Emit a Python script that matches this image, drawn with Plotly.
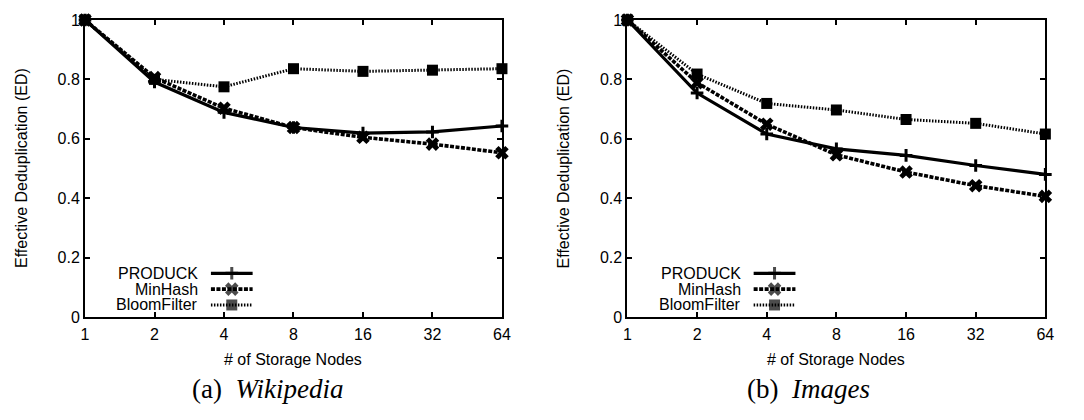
import plotly.graph_objects as go

nodes = [1, 2, 4, 8, 16, 32, 64]
tick_labels = ["1", "2", "4", "8", "16", "32", "64"]
series_names = ["PRODUCK", "MinHash", "BloomFilter"]

wiki_produck = [1.0, 0.791, 0.689, 0.638, 0.619, 0.623, 0.643]
wiki_minhash = [1.0, 0.806, 0.703, 0.638, 0.605, 0.582, 0.553]
wiki_bloom = [1.0, 0.800, 0.775, 0.836, 0.827, 0.831, 0.836]

img_produck = [1.0, 0.754, 0.616, 0.566, 0.544, 0.510, 0.480]
img_minhash = [1.0, 0.789, 0.649, 0.546, 0.488, 0.442, 0.406]
img_bloom = [1.0, 0.818, 0.719, 0.697, 0.665, 0.652, 0.616]

y_ticks = [0, 0.2, 0.4, 0.6, 0.8, 1.0]
y_tick_labels = ["0", "0.2", "0.4", "0.6", "0.8", "1"]

W, H = 1084, 420
SANS = "Liberation Sans, Arial, Helvetica, sans-serif"
SERIF = "Liberation Serif, DejaVu Serif, serif"
FS = 16

styles = [
    dict(line=dict(color="black", width=3.2, dash="solid"),
         marker=dict(symbol="cross-thin", size=9, color="black",
                     line=dict(color="black", width=3))),
    dict(line=dict(color="black", width=3.6, dash="4px,1.5px"),
         marker=dict(symbol="x", size=12, color="black",
                     line=dict(color="black", width=0))),
    dict(line=dict(color="black", width=3, dash="1.5px,1.5px"),
         marker=dict(symbol="square", size=11, color="black",
                     line=dict(color="black", width=0))),
]

fig = go.Figure()

panels = [
    ("x", "y", [wiki_produck, wiki_minhash, wiki_bloom]),
    ("x2", "y2", [img_produck, img_minhash, img_bloom]),
]
for xa, ya, data in panels:
    for name, vals, st in zip(series_names, data, styles):
        fig.add_trace(go.Scatter(x=nodes, y=vals, mode="lines+markers", name=name,
                                 xaxis=xa, yaxis=ya, showlegend=False, cliponaxis=False,
                                 line=st["line"], marker=st["marker"]))

# plot frames in pixels
L1, R1 = 82.0, 504.0
L2, R2 = 631.0, 1054.0
TOP, BOT = 12.5, 322.0

rows = [276.5, 293.0, 309.5]
legend_cfg = []
for L, R in ((L1, R1), (L2, R2)):
    w = R - L
    legend_cfg.append((L + 0.276 * w, L + 0.302 * w, L + 0.402 * w))

annotations = []
for text_r, l0, l1 in legend_cfg:
    for name, yy, st in zip(series_names, rows, styles):
        mid = (l0 + l1) / 2
        m = dict(st["marker"])
        m["size"] = [0, st["marker"]["size"], 0]
        fig.add_trace(go.Scatter(x=[l0, mid, l1], y=[yy, yy, yy], mode="lines+markers",
                                 xaxis="x3", yaxis="y3", showlegend=False, hoverinfo="skip",
                                 cliponaxis=False, line=st["line"], marker=m))
        annotations.append(dict(x=text_r, y=yy, xref="x3", yref="y3", text=name,
                                showarrow=False, xanchor="right", yanchor="middle",
                                font=dict(family=SANS, size=FS, color="black")))

def xfrac(px):
    return px / W

def yfrac(py):
    return 1 - py / H

for cx in (L1 - 65, L2 - 65):
    annotations.append(dict(x=xfrac(cx), y=yfrac(167), xref="paper", yref="paper",
                            text="Effective Deduplication (ED)", textangle=-90,
                            showarrow=False, xanchor="center", yanchor="middle",
                            font=dict(family=SANS, size=FS, color="black")))
for cx in ((L1 + R1) / 2, (L2 + R2) / 2):
    annotations.append(dict(x=xfrac(cx), y=yfrac(366), xref="paper", yref="paper",
                            text="# of Storage Nodes", showarrow=False,
                            xanchor="center", yanchor="middle",
                            font=dict(family=SANS, size=FS, color="black")))
for cx, txt in ((267.0, "(a)  <i>Wikipedia</i>"), (814.0, "(b)  <i>Images</i>")):
    annotations.append(dict(x=xfrac(cx), y=yfrac(397), xref="paper", yref="paper",
                            text=txt, showarrow=False, xanchor="center", yanchor="middle",
                            font=dict(family=SERIF, size=27, color="black")))

common_x = dict(type="log", range=[0, 1.80618], tickvals=nodes, ticktext=tick_labels,
                ticks="inside", ticklen=5, tickwidth=1.5, tickcolor="black",
                showline=True, linewidth=2, linecolor="black", mirror="ticks",
                showgrid=False, zeroline=False, ticklabelstandoff=2,
                tickfont=dict(family=SANS, size=FS, color="black"))
common_y = dict(range=[0, 1], tickvals=y_ticks, ticktext=y_tick_labels,
                ticks="inside", ticklen=5, tickwidth=1.5, tickcolor="black",
                showline=True, linewidth=2, linecolor="black", mirror="ticks",
                showgrid=False, zeroline=False,
                tickfont=dict(family=SANS, size=FS, color="black"))

ydom = [yfrac(BOT), yfrac(TOP)]
fig.update_layout(
    width=W, height=H,
    margin=dict(l=0, r=0, t=0, b=0),
    paper_bgcolor="white", plot_bgcolor="rgba(0,0,0,0)",
    xaxis=dict(domain=[xfrac(L1), xfrac(R1)], anchor="y", **common_x),
    yaxis=dict(domain=ydom, anchor="x", **common_y),
    xaxis2=dict(domain=[xfrac(L2), xfrac(R2)], anchor="y2", **common_x),
    yaxis2=dict(domain=ydom, anchor="x2", **common_y),
    xaxis3=dict(domain=[0, 1], range=[0, W], visible=False, fixedrange=True, anchor="y3"),
    yaxis3=dict(domain=[0, 1], range=[H, 0], visible=False, fixedrange=True, anchor="x3"),
    annotations=annotations,
    showlegend=False,
)

page_css = (
    "var d=document.documentElement,b=document.body;"
    "d.style.margin='0';d.style.padding='0';d.style.overflow='hidden';d.style.height='420px';"
    "b.style.margin='0';b.style.padding='0';b.style.overflow='hidden';b.style.height='420px';"
)
fig.write_html("out.html", config={"displayModeBar": False}, post_script=page_css)
